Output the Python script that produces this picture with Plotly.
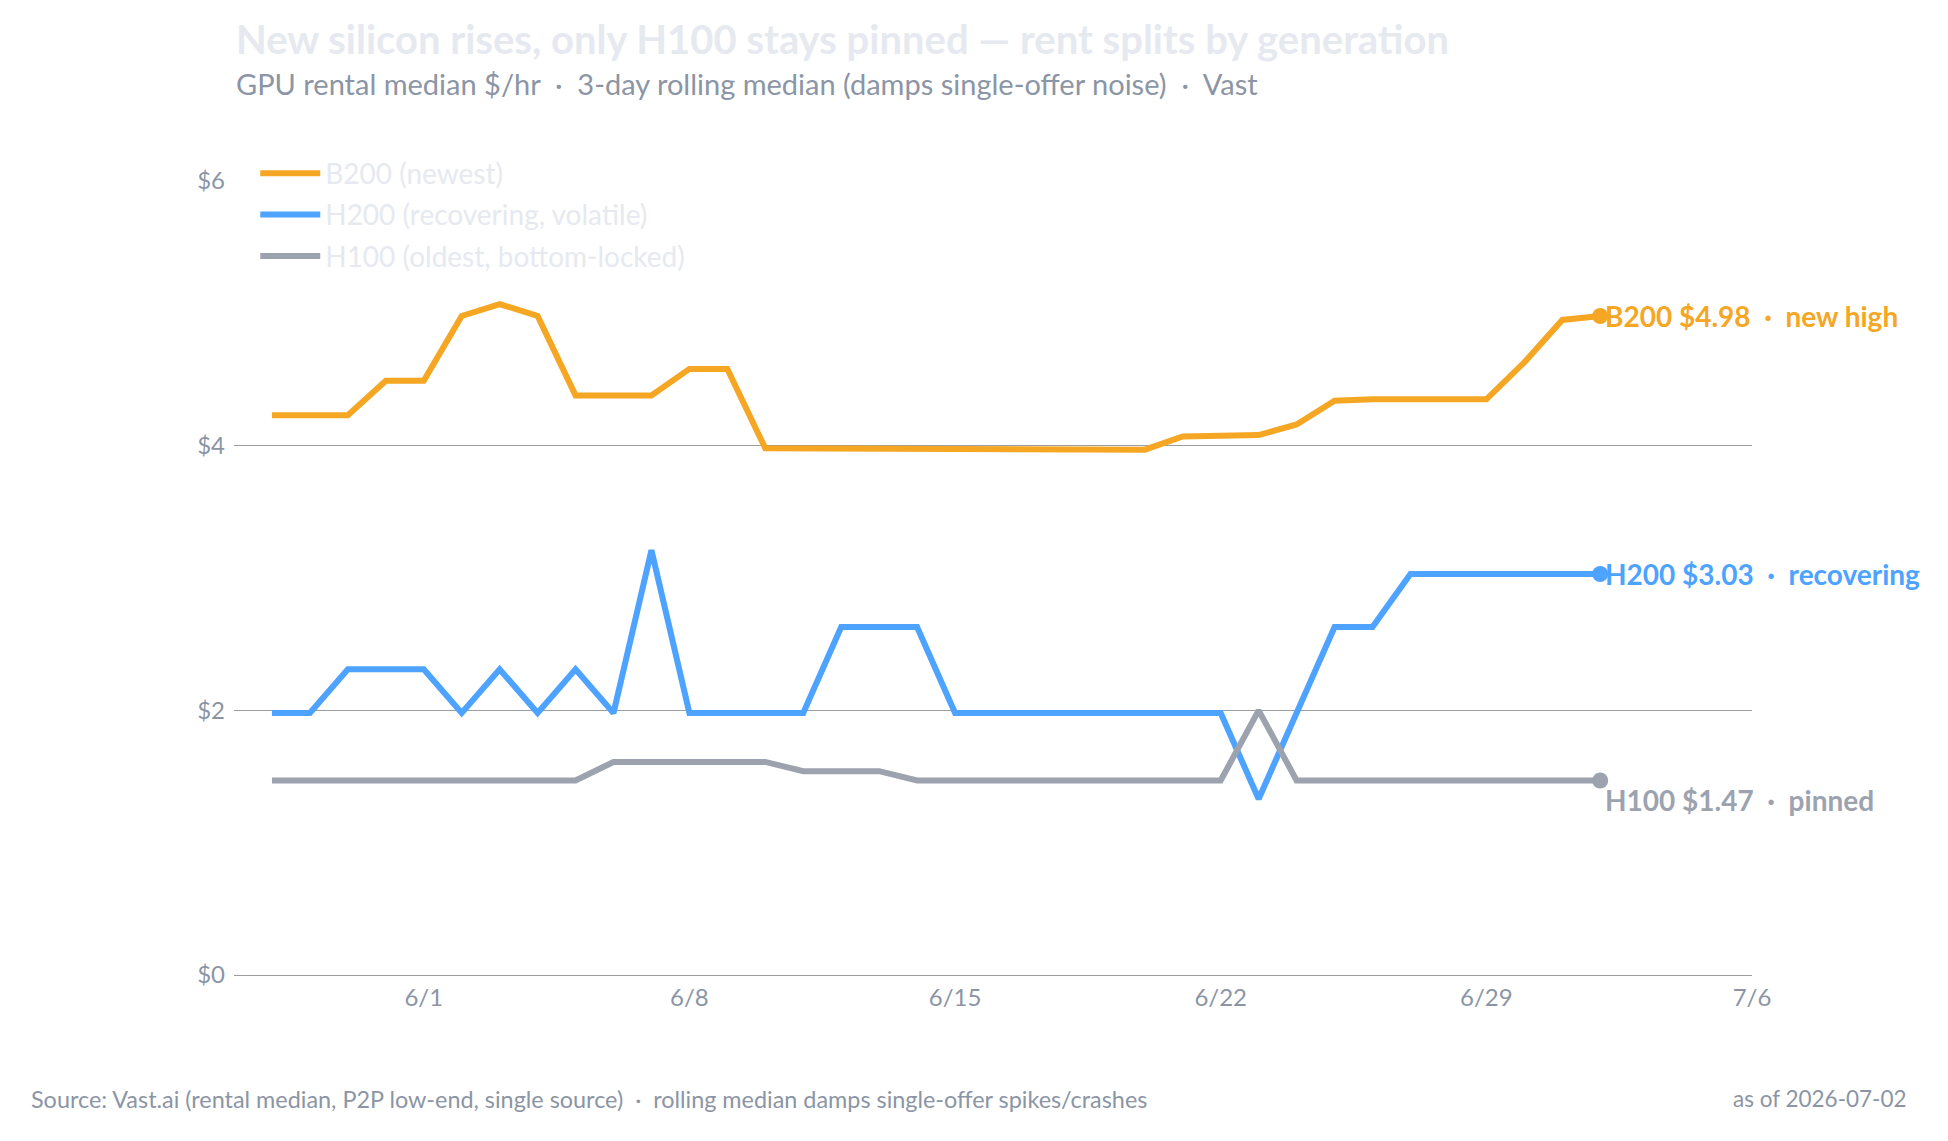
import plotly.graph_objects as go

dates = [
    "2026-05-28", "2026-05-29", "2026-05-30", "2026-05-31", "2026-06-01", "2026-06-02",
    "2026-06-03", "2026-06-04", "2026-06-05", "2026-06-06", "2026-06-07", "2026-06-08",
    "2026-06-09", "2026-06-10", "2026-06-11", "2026-06-12", "2026-06-13", "2026-06-14",
    "2026-06-15", "2026-06-16", "2026-06-17", "2026-06-18", "2026-06-19", "2026-06-20",
    "2026-06-21", "2026-06-22", "2026-06-23", "2026-06-24", "2026-06-25", "2026-06-26",
    "2026-06-27", "2026-06-28", "2026-06-29", "2026-06-30", "2026-07-01", "2026-07-02",
]

b200 = [4.23, 4.23, 4.23, 4.49, 4.49, 4.98, 5.07, 4.98, 4.38, 4.38, 4.38, 4.58,
        4.58, 3.98, 3.98, 3.98, 3.97, 3.97, 3.97, 3.97, 3.97, 3.97, 3.97, 3.97,
        4.07, 4.07, 4.08, 4.16, 4.34, 4.35, 4.35, 4.35, 4.35, 4.63, 4.95, 4.98]

h200 = [1.98, 1.98, 2.31, 2.31, 2.31, 1.98, 2.31, 1.98, 2.31, 1.98, 3.21, 1.98,
        1.98, 1.98, 1.98, 2.63, 2.63, 2.63, 1.98, 1.98, 1.98, 1.98, 1.98, 1.98,
        1.98, 1.98, 1.33, 1.98, 2.63, 2.63, 3.03, 3.03, 3.03, 3.03, 3.03, 3.03]

h100 = [1.47, 1.47, 1.47, 1.47, 1.47, 1.47, 1.47, 1.47, 1.47, 1.61, 1.61, 1.61,
        1.61, 1.61, 1.54, 1.54, 1.54, 1.47, 1.47, 1.47, 1.47, 1.47, 1.47, 1.47,
        1.47, 1.47, 2.00, 1.47, 1.47, 1.47, 1.47, 1.47, 1.47, 1.47, 1.47, 1.47]

series_names = ["B200 (newest)", "H200 (recovering, volatile)", "H100 (oldest, bottom-locked)"]
series_vals = [b200, h200, h100]
series_colors = ["#f5a623", "#4da3ff", "#9ca3af"]
end_notes = ["new high", "recovering", "pinned"]
end_shift = [0, 0, -20]

x_ticks = ["2026-06-01", "2026-06-08", "2026-06-15", "2026-06-22", "2026-06-29", "2026-07-06"]
x_tick_text = ["6/1", "6/8", "6/15", "6/22", "6/29", "7/6"]
y_ticks = [0, 2, 4, 6]
y_tick_text = ["$0", "$2", "$4", "$6"]

FONT = "Lato"
GRAY = "#8b95a5"
FAINT = "#e6e9ef"
SEP = "\u00a0\u00a0·\u00a0\u00a0"

fig = go.Figure()
for i, (name, vals, col) in enumerate(zip(series_names, series_vals, series_colors)):
    fig.add_trace(go.Scatter(
        x=dates, y=vals, name=name, mode="lines",
        line=dict(color=col, width=6),
        legendgroup=f"g{i}",
        hoverinfo="skip",
    ))
for i, (name, vals, col) in enumerate(zip(series_names, series_vals, series_colors)):
    fig.add_trace(go.Scatter(
        x=[dates[-1]], y=[vals[-1]], mode="markers",
        marker=dict(color=col, size=16),
        showlegend=False, hoverinfo="skip",
    ))
    fig.add_annotation(
        x=dates[-1], y=vals[-1], xref="x", yref="y",
        text=f"<b>{name.split(' ')[0]} ${vals[-1]:.2f}{SEP}{end_notes[i]}</b>",
        showarrow=False, xanchor="left", yanchor="middle",
        xshift=3, yshift=end_shift[i],
        font=dict(family=FONT, size=28, color=col),
    )

fig.add_annotation(
    text="<b>New silicon rises, only H100 stays pinned — rent splits by generation</b>",
    xref="paper", yref="paper", x=0, y=1.179, xanchor="left", yanchor="middle",
    showarrow=False, font=dict(family=FONT, size=40, color=FAINT),
)
fig.add_annotation(
    text=f"GPU rental median $/hr{SEP}3-day rolling median (damps single-offer noise){SEP}Vast",
    xref="paper", yref="paper", x=0, y=1.123, xanchor="left", yanchor="middle",
    showarrow=False, font=dict(family=FONT, size=29, color=GRAY),
)
fig.add_annotation(
    text=f"Source: Vast.ai (rental median, P2P low-end, single source){SEP}rolling median damps single-offer spikes/crashes",
    xref="paper", yref="paper", x=-0.135, y=-0.156, xanchor="left", yanchor="middle",
    showarrow=False, font=dict(family=FONT, size=23.4, color=GRAY),
)
fig.add_annotation(
    text="as of 2026-07-02",
    xref="paper", yref="paper", x=1.1034, y=-0.156, xanchor="right", yanchor="middle",
    showarrow=False, font=dict(family=FONT, size=22.5, color=GRAY),
)

fig.update_layout(
    width=1948, height=1141,
    margin=dict(l=234, r=196, t=181, b=166),
    paper_bgcolor="white", plot_bgcolor="white",
    font=dict(family=FONT, color=GRAY),
    showlegend=True,
    legend=dict(
        x=0.014, y=1.041, xanchor="left", yanchor="top",
        bgcolor="rgba(0,0,0,0)",
        font=dict(family=FONT, size=28, color=FAINT),
        tracegroupgap=2,
        itemwidth=60,
    ),
    xaxis=dict(
        type="date",
        range=["2026-05-27", "2026-07-06"],
        tickvals=x_ticks, ticktext=x_tick_text,
        showgrid=False, zeroline=False, showline=False,
        tickfont=dict(family=FONT, size=24, color=GRAY),
        ticks="", ticklabelstandoff=6,
    ),
    yaxis=dict(
        range=[0, 6],
        tickvals=y_ticks, ticktext=y_tick_text,
        showgrid=True, gridcolor="#9a9da2", gridwidth=1,
        zeroline=True, zerolinecolor="#9a9da2", zerolinewidth=1,
        showline=False, ticks="",
        tickfont=dict(family=FONT, size=24, color=GRAY),
        ticklabelstandoff=8,
    ),
)

fig.write_html("out.html")
